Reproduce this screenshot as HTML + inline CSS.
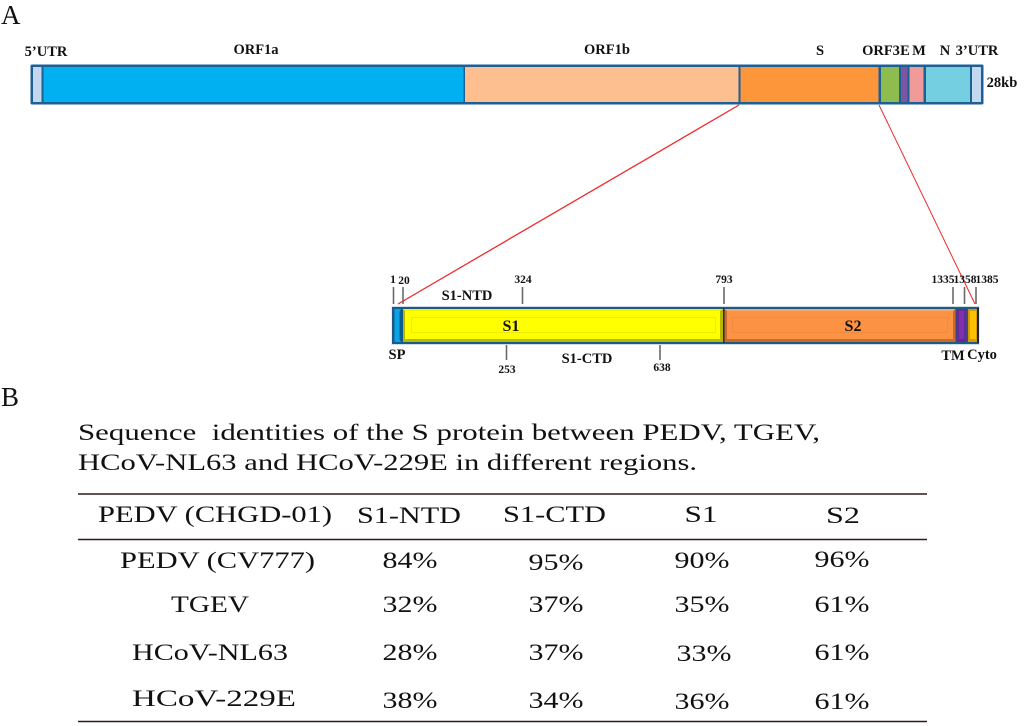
<!DOCTYPE html>
<html lang="en">
<head>
<meta charset="utf-8">
<title>Coronavirus genome and S protein identities</title>
<style>
html,body{margin:0;padding:0;background:#fff;width:1024px;height:726px;overflow:hidden}
svg{display:block}
text{font-family:"Liberation Serif",serif;fill:#111}
.b{font-weight:bold;font-size:14.5px;text-anchor:middle}
.n{font-weight:bold;font-size:11.5px;text-anchor:middle}
.t{font-size:23px;text-anchor:middle}
.tick{stroke:#6a6a6a;stroke-width:1.6}
</style>
</head>
<body>
<svg width="1024" height="726" viewBox="0 0 1024 726">
<text x="1" y="24" font-size="27">A</text>

<g>
<text class="b" x="46" y="56">5’UTR</text>
<text class="b" x="256" y="54">ORF1a</text>
<text class="b" x="607" y="54">ORF1b</text>
<text class="b" x="820" y="55">S</text>
<text class="b" x="881" y="55">ORF3</text>
<text class="b" x="905" y="55">E</text>
<text class="b" x="919" y="55">M</text>
<text class="b" x="945" y="55">N</text>
<text class="b" x="977" y="55">3’UTR</text>
<text class="b" x="1002" y="87">28kb</text>
</g>

<g>
<rect x="30.500" y="64.500" width="953" height="40" rx="1.500" fill="#1c6096"/>
<rect x="33" y="67" width="8.500" height="35" fill="#c3d8ef"/>
<rect x="43.500" y="67" width="420" height="35" fill="#00b0f0"/>
<rect x="465" y="67" width="273.500" height="35" fill="#fdbf8f"/>
<rect x="740.500" y="67" width="138" height="35" fill="#fd963b"/>
<rect x="881" y="67" width="18" height="35" fill="#8fbc4e"/>
<rect x="901" y="67" width="6.500" height="35" fill="#7a57a0"/>
<rect x="909.500" y="67" width="14" height="35" fill="#f09a9a"/>
<rect x="926" y="67" width="44" height="35" fill="#74cfe0"/>
<rect x="972" y="67" width="9" height="35" fill="#c3d8ef"/>
</g>

<line x1="739" y1="105" x2="398" y2="304" stroke="#ee2a2a" stroke-width="1.3"/>
<line x1="879" y1="105" x2="975" y2="304" stroke="#ee2a2a" stroke-width="1"/>

<g>
<rect x="391.500" y="306" width="588" height="39" fill="#cfdde9"/>
<rect x="392" y="307" width="587" height="37" fill="#1d5b85"/>
<rect x="393.500" y="308.500" width="9" height="34" fill="#0b5d8e"/>
<polygon points="394.500,309 401,309 399.500,312 399.500,339 401,342 394.500,342" fill="#0aa3e6"/>

<rect x="403" y="309" width="320" height="33" fill="#b8b800"/>
<polygon points="403,309 723,309 720,311 405,311" fill="#f2f200"/>
<rect x="405" y="311" width="315" height="28" fill="#ffff00"/>
<rect x="411.500" y="317.500" width="304" height="15" fill="none" stroke="#ecec00"/>
<rect x="723" y="308" width="1.500" height="35" fill="#1a3040"/>

<rect x="724.500" y="309" width="231" height="33" fill="#c96a28"/>
<polygon points="724.500,309 955.500,309 953,311 727,311" fill="#f9a468"/>
<rect x="727" y="311" width="226" height="28" fill="#fb9244"/>
<rect x="732.500" y="317.500" width="215" height="15" fill="none" stroke="#f48a40"/>

<rect x="956.500" y="309" width="10" height="33" fill="#6a2796"/>
<rect x="959" y="311" width="5" height="28" fill="#7f30ab"/>
<rect x="968" y="309" width="9" height="33" fill="#d69a00"/>
<rect x="970" y="311" width="6" height="28" fill="#ffc000"/>
<rect x="977" y="308" width="2" height="35" fill="#16293a"/>
</g>

<text x="511" y="331" font-size="16" font-weight="bold" text-anchor="middle">S1</text>
<text x="853" y="331" font-size="16" font-weight="bold" text-anchor="middle">S2</text>

<g>
<line class="tick" x1="393.500" y1="287" x2="393.500" y2="304"/>
<line class="tick" x1="403" y1="287" x2="403" y2="304"/>
<line class="tick" x1="522.500" y1="287" x2="522.500" y2="304"/>
<line class="tick" x1="724" y1="287" x2="724" y2="304"/>
<line class="tick" x1="953" y1="287" x2="953" y2="304"/>
<line class="tick" x1="964.500" y1="287" x2="964.500" y2="304"/>
<line class="tick" x1="976" y1="287" x2="976" y2="304"/>
<line class="tick" x1="506.500" y1="345" x2="506.500" y2="360"/>
<line class="tick" x1="660" y1="345" x2="660" y2="360"/>
<text class="n" x="393" y="283">1</text>
<text class="n" x="404" y="284">20</text>
<text class="n" x="523" y="283">324</text>
<text class="n" x="724" y="283">793</text>
<text class="n" x="943" y="283">1335</text>
<text class="n" x="965" y="283">1358</text>
<text class="n" x="987" y="283">1385</text>
<text class="n" x="507" y="373">253</text>
<text class="n" x="662" y="371">638</text>
<text class="b" x="467" y="300">S1-NTD</text>
<text class="b" x="587" y="363">S1-CTD</text>
<text class="b" x="397" y="359">SP</text>
<text class="b" x="953" y="360">TM</text>
<text class="b" x="982" y="359">Cyto</text>
</g>

<text x="1" y="406" font-size="27">B</text>

<g font-size="23">
<text x="78" y="440" xml:space="preserve" textLength="742" lengthAdjust="spacingAndGlyphs">Sequence  identities of the S protein between PEDV, TGEV,</text>
<text x="78" y="470" textLength="619" lengthAdjust="spacingAndGlyphs">HCoV-NL63 and HCoV-229E in different regions.</text>
</g>

<g>
<line x1="78" y1="494" x2="927" y2="494" stroke="#2b1d18" stroke-width="1.500"/>
<line x1="78" y1="539.500" x2="927" y2="539.500" stroke="#2b1d18" stroke-width="1.500"/>
<line x1="78" y1="721.500" x2="927" y2="721.500" stroke="#2b1d18" stroke-width="1.500"/>

<text class="t" x="215" y="522" textLength="234" lengthAdjust="spacingAndGlyphs">PEDV (CHGD-01)</text>
<text class="t" x="409" y="523" textLength="104" lengthAdjust="spacingAndGlyphs">S1-NTD</text>
<text class="t" x="554.500" y="522" textLength="103" lengthAdjust="spacingAndGlyphs">S1-CTD</text>
<text class="t" x="701" y="522" textLength="33" lengthAdjust="spacingAndGlyphs">S1</text>
<text class="t" x="843" y="523" textLength="34" lengthAdjust="spacingAndGlyphs">S2</text>

<text class="t" x="217.500" y="568" textLength="195" lengthAdjust="spacingAndGlyphs">PEDV (CV777)</text>
<text class="t" x="410" y="568" textLength="55" lengthAdjust="spacingAndGlyphs">84%</text>
<text class="t" x="556" y="570" textLength="55" lengthAdjust="spacingAndGlyphs">95%</text>
<text class="t" x="702" y="568" textLength="55" lengthAdjust="spacingAndGlyphs">90%</text>
<text class="t" x="842" y="567" textLength="55" lengthAdjust="spacingAndGlyphs">96%</text>

<text class="t" x="210" y="612" textLength="78" lengthAdjust="spacingAndGlyphs">TGEV</text>
<text class="t" x="410" y="612" textLength="55" lengthAdjust="spacingAndGlyphs">32%</text>
<text class="t" x="556" y="612" textLength="55" lengthAdjust="spacingAndGlyphs">37%</text>
<text class="t" x="702" y="612" textLength="55" lengthAdjust="spacingAndGlyphs">35%</text>
<text class="t" x="842" y="612" textLength="55" lengthAdjust="spacingAndGlyphs">61%</text>

<text class="t" x="210" y="660" textLength="156" lengthAdjust="spacingAndGlyphs">HCoV-NL63</text>
<text class="t" x="410" y="660" textLength="55" lengthAdjust="spacingAndGlyphs">28%</text>
<text class="t" x="556" y="660" textLength="55" lengthAdjust="spacingAndGlyphs">37%</text>
<text class="t" x="704" y="661" textLength="55" lengthAdjust="spacingAndGlyphs">33%</text>
<text class="t" x="842" y="660" textLength="55" lengthAdjust="spacingAndGlyphs">61%</text>

<text class="t" x="214" y="706" textLength="164" lengthAdjust="spacingAndGlyphs">HCoV-229E</text>
<text class="t" x="410" y="708" textLength="55" lengthAdjust="spacingAndGlyphs">38%</text>
<text class="t" x="556" y="708" textLength="55" lengthAdjust="spacingAndGlyphs">34%</text>
<text class="t" x="702" y="709" textLength="55" lengthAdjust="spacingAndGlyphs">36%</text>
<text class="t" x="842" y="709" textLength="55" lengthAdjust="spacingAndGlyphs">61%</text>
</g>
</svg>
</body>
</html>
